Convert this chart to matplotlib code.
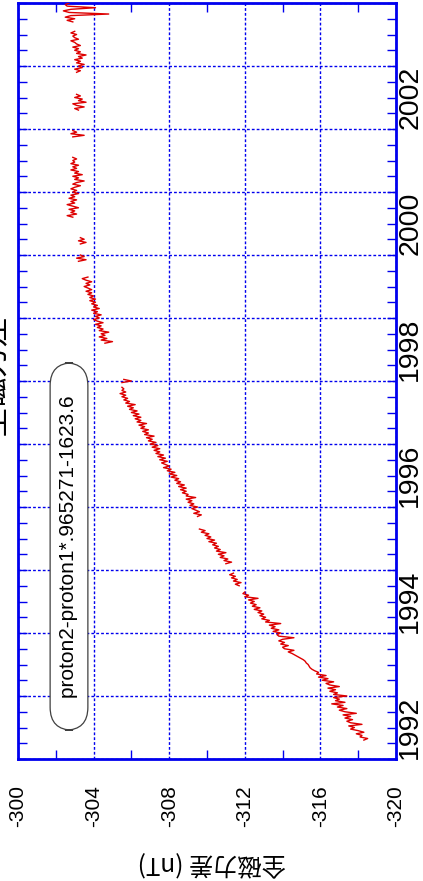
import numpy as np
import matplotlib.pyplot as plt
from matplotlib.ticker import MultipleLocator

plt.rcParams['font.family'] = ['Liberation Sans', 'Noto Sans CJK JP', 'DejaVu Sans']

# sampling step of the series (years)
step = 0.025

# segments of the difference series: start year and values (nT)
seg_starts = [1992.300, 1994.750, 1995.100, 1995.850, 1997.975, 1998.600, 1999.900,
              2000.175, 2000.600, 2001.875, 2002.300, 2002.900, 2003.700]
seg_values = [
    [-318.3, -318.5, -318.1, -318.2, -317.9, -318.3, -318.0, -317.6,
     -317.8, -317.5, -318.2, -317.6, -317.4, -317.7, -317.3, -317.6,
     -317.2, -317.9, -317.3, -317.0, -317.4, -316.9, -317.2, -316.6,
     -317.3, -316.8, -317.0, -316.7, -317.4, -316.7, -316.9, -316.5,
     -316.8, -316.4, -317.0, -316.5, -316.3, -316.7, -316.1, -316.4,
     -315.9, -316.3, -315.8, -315.9, -315.7, -315.55, -315.45, -315.4,
     -315.35, -315.25, -315.2, -315.1, -314.95, -314.8, -314.65, -314.5,
     -314.3, -314.6, -314.1, -314.0, -314.3, -313.9, -314.1, -313.8,
     -314.0, -314.6, -313.8, -313.7, -313.9, -313.5, -313.8, -313.4,
     -313.6, -313.3, -313.9, -313.1, -313.3, -312.9, -313.1, -312.8,
     -313.0, -312.7, -312.9, -312.5, -312.8, -312.4, -312.6, -312.3,
     -312.5, -312.2, -312.7, -312.0, -312.2, -311.9, -312.0],
    [-311.7, -311.5, -311.8, -311.4, -311.6, -311.3, -311.5, -311.2, -311.4],
    [-311.0, -311.3, -310.9, -311.1, -310.7, -310.9, -310.6, -311.0, -310.5, -310.7,
     -310.4, -310.6, -310.3, -310.5, -310.1, -310.4, -310.0, -310.2, -309.9, -310.1,
     -309.7, -309.9, -309.6],
    [-309.5, -309.7,
     -309.3, -309.6, -309.4, -309.2, -309.5, -309.1, -309.3, -309.0,
     -309.2, -308.9, -309.4, -308.9, -309.0, -308.7, -308.9, -308.6,
     -308.9, -308.5, -308.8, -308.4, -308.6, -308.3, -308.5, -308.1,
     -308.4, -308.0, -308.3, -307.9, -308.1, -307.7, -308.0, -307.8,
     -307.6, -307.9, -307.5, -307.8, -307.4, -307.7, -307.3, -307.5,
     -307.2, -307.5, -307.1, -307.4, -307.0, -307.3, -306.9, -307.1,
     -306.8, -307.2, -306.7, -306.9, -306.6, -306.9, -306.5, -306.7,
     -306.4, -306.8, -306.3, -306.5, -306.2, -306.5, -306.1, -306.4,
     -306.0, -306.3, -305.9, -306.1, -305.8, -306.2, -305.7, -305.9,
     -305.6, -305.8, -305.5, -305.7, -305.4, -305.7, -305.5, -305.6,
     -305.5],
    [-305.5, -306.0, -305.6],
    [-304.6, -305.0, -304.4, -304.7, -304.3, -304.6, -304.4, -304.8,
     -304.3, -304.5, -304.2, -304.4, -304.1, -304.5, -304.2, -304.0,
     -304.3, -304.1, -304.4, -304.0, -304.2, -303.9, -304.3, -304.0,
     -304.2, -303.9, -304.1, -303.8, -304.1, -303.8, -304.0, -303.7,
     -303.9, -303.6, -303.9, -303.7, -303.5, -303.8, -303.6, -303.9,
     -303.6, -303.4, -303.7],
    [-303.2, -303.6, -303.1, -303.5, -303.3],
    [-303.3, -303.6, -303.2, -303.5, -303.3],
    [-302.9, -302.6, -303.1, -302.8, -303.0, -302.7, -303.2, -302.9,
     -302.6, -303.0, -302.8, -303.1, -302.7, -303.0, -302.8, -303.2,
     -302.9, -303.1, -302.8, -303.0, -303.3, -302.9, -303.1, -303.5,
     -303.0, -303.2, -302.9, -303.4, -303.0, -303.2, -302.8, -303.1,
     -302.9, -303.2, -302.8, -303.0, -302.9, -303.1, -302.9],
    [-302.9, -303.5, -302.8, -303.1, -302.9],
    [-303.2, -303.0, -303.5, -303.1, -302.9, -303.6, -303.2, -303.4, -303.0, -303.3,
     -303.1],
    [-303.1, -303.3, -303.0, -303.4, -303.2, -303.5, -303.1, -303.3, -303.0, -303.4,
     -303.2, -303.6, -303.1, -303.3, -303.0, -303.2, -302.9, -303.3, -303.1, -303.0,
     -302.8, -303.2, -303.0, -302.9, -303.1, -302.8, -303.0],
    [-302.9, -302.6, -303.0, -302.5, -302.8, -304.8, -302.7, -302.4, -302.8, -304.1,
     -302.6, -302.5, -302.7],
]

year_labels = [1992, 1994, 1996, 1998, 2000, 2002]
nt_ticks = [-300, -304, -308, -312, -316, -320]

years = []
values = []
for start, vals in zip(seg_starts, seg_values):
    years.extend(start + step * np.arange(len(vals)))
    values.extend(vals)
    years.append(np.nan)
    values.append(np.nan)

fig = plt.figure(figsize=(4.23, 8.81), dpi=100)
ax = fig.add_axes([18/423, 1 - 759/881, 378/423, 756/881])

ax.plot(values, years, color='#dd0000', lw=1.0, zorder=3)

ax.set_xlim(-300, -320)
ax.set_ylim(1992, 2004)

blue = '#0000ee'
ax.set_xticks(nt_ticks)
ax.set_xticklabels([str(v) for v in nt_ticks])
ax.xaxis.set_minor_locator(MultipleLocator(2))
ax.yaxis.set_major_locator(MultipleLocator(1))
ax.yaxis.set_minor_locator(MultipleLocator(0.25))

ax.tick_params(axis='x', which='major', length=0, labelsize=15, labelrotation=90, pad=19)
ax.tick_params(axis='x', which='minor', direction='in', length=6.5, width=1,
               color=blue, top=True, bottom=True)
ax.tick_params(axis='y', which='both', direction='in', length=6.5, width=1,
               color=blue, left=True, right=True, labelleft=False, labelright=False)

ax.grid(True, which='major', color=blue, linestyle=(0, (2, 1.5)), lw=1)
for s in ax.spines.values():
    s.set_color(blue)
    s.set_linewidth(2)

for yr in year_labels:
    ax.text(1.003, yr + 0.5, str(yr), transform=ax.get_yaxis_transform(),
            rotation=90, ha='left', va='center', fontsize=20.5)

fig.text(212/423, 1 - 863/881, '全磁力差 (nT)', rotation=180, ha='center', va='center',
         fontsize=17.5, family=['Noto Sans CJK JP', 'DejaVu Sans'])

# title, mostly outside the left edge as in the original image
fig.text(-5/423, 1 - 375/881, '全磁力差', rotation=90, ha='center', va='center',
         fontsize=22, family=['Noto Sans CJK JP', 'DejaVu Sans'])

fig.text(69/423, 1 - 546.5/881, '    proton2-proton1*.965271-1623.6    ', rotation=90,
         ha='center', va='center', fontsize=15,
         bbox=dict(boxstyle='round,pad=0.45,rounding_size=1.1', fc='white',
                   ec='#404040', lw=0.9))

fig.savefig('out.png', dpi=100)
